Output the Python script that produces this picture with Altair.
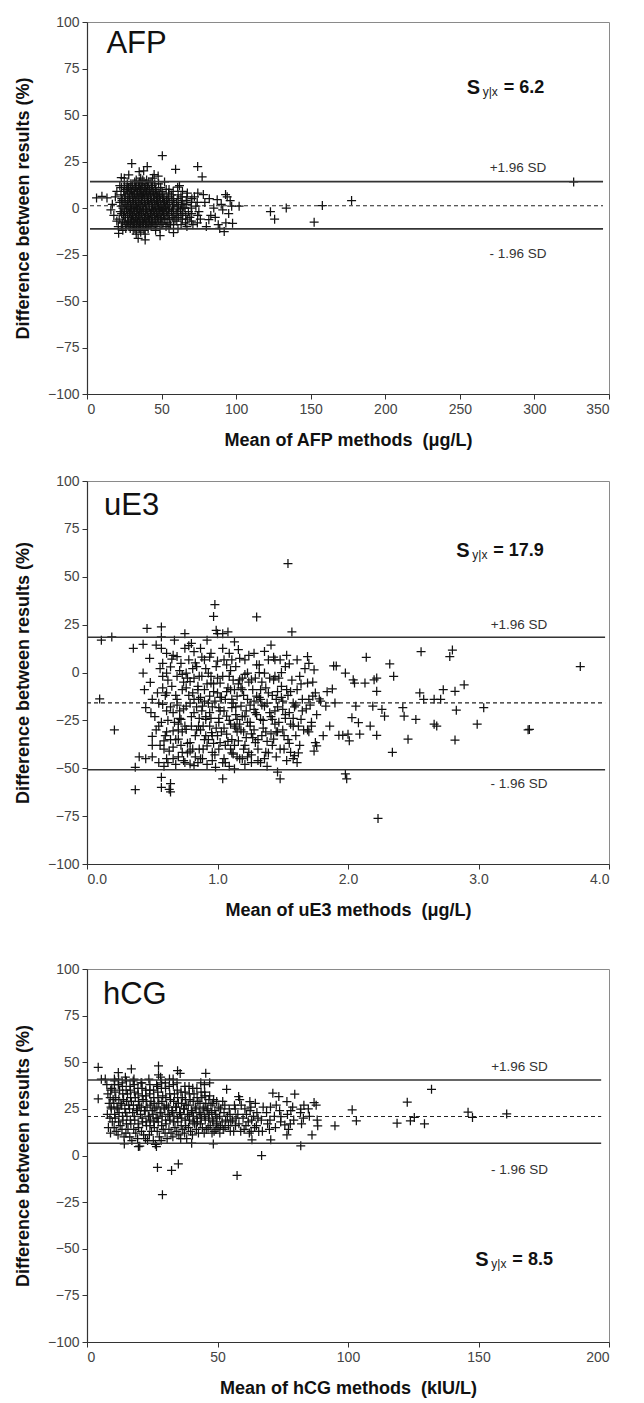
import altair as alt
import pandas as pd

FONT = "Liberation Sans"

# ---------------- AFP panel ----------------
AFP_PTS = [
    (50.5, 28.1), (30, 23.9), (40.4, 22.3), (74.2, 22.3), (59.4, 20.8), (77.2, 16.8), (326.3, 14),
    (177.4, 4), (157.8, 1.3), (133.6, 0), (123, -2), (125.8, -6), (152.3, -7.6), (102, 1), (97.6, -8.2),
    (92.9, 7.2), (92, -12.7), (93.1, -8), (87.3, 4.5), (81.7, -6.3), (78, 7.2), (6.4, 5.4), (10, 6.3),
    (13.4, 5.4), (39, -17.2), (49, -14.9), (58, -13.2), (21.2, -13.6), (34.3, -16.3), (23, 16.3),
    (25, 16), (47.7, 17.2), (60.8, 11.2), (35, 19.5), (38, 20), (44, 16), (28, 17.8), (33, 15), (45, 18),
    (62, 12), (70, 3), (72, 6), (75, -2), (80, -10), (85, 0), (90, 2), (95, -3), (96, 4), (83, -4),
    (88, -9), (91, -1), (66, -8), (68, -2), (64, 9), (55, 10), (52, 14), (48, 13),
    (17, 2), (18, -4), (19, 6), (16, -1), (20, -7), (21, -10), (20, 9), (22, 12), (24, -12), (26, -11),
    (27, 13), (29, 10), (31, -12), (33, -14), (36, -13), (37, 12), (41, -11), (43, 14), (46, -12),
    (53, -10), (56, -9), (59, -6), (61, 5), (63, -4), (65, 2), (67, 6), (69, -5), (71, -9), (73, 1),
    (76, -6), (79, 3), (82, 5), (86, -5), (89, -11), (94, 6), (97, 1),
    (21.6, -6), (22.3, -2), (22.0, 3), (22.8, 7),
    (23.7, -8), (24.4, -4), (24.1, 0), (23.5, 4), (24.6, 9),
    (26.2, -9), (25.8, -5), (26.5, -1), (26.0, 2), (25.6, 6), (26.3, 10),
    (28.1, -10), (27.7, -7), (28.4, -3), (28.0, 0), (27.5, 3), (28.6, 5), (28.2, 8), (27.9, 11),
    (30.2, -9), (29.8, -6), (30.5, -4), (30.0, -1), (29.6, 1), (30.7, 4), (30.3, 7), (29.9, 9), (30.4, 12),
    (32.1, -11), (31.7, -8), (32.4, -5), (32.0, -2), (31.6, 0), (32.6, 2), (32.2, 5), (31.8, 8), (32.5, 11), (32.0, 14),
    (34.3, -10), (33.8, -7), (34.5, -4), (34.0, -1), (33.6, 1), (34.7, 3), (34.2, 6), (33.9, 9), (34.4, 12),
    (36.0, -9), (35.6, -6), (36.4, -3), (36.1, -1), (35.7, 2), (36.6, 4), (36.2, 7), (35.9, 10), (36.3, 13), (36.0, 16),
    (38.2, -12), (37.8, -8), (38.5, -5), (38.0, -2), (37.6, 0), (38.7, 3), (38.3, 5), (37.9, 8), (38.4, 11),
    (40.1, -10), (39.7, -7), (40.4, -4), (40.0, -1), (39.6, 1), (40.6, 4), (40.2, 6), (39.8, 9), (40.5, 12), (40.0, 15),
    (42.2, -9), (41.8, -6), (42.5, -3), (42.0, 0), (41.6, 2), (42.7, 5), (42.3, 8), (41.9, 10),
    (44.1, -8), (43.7, -5), (44.4, -2), (44.0, 1), (43.6, 3), (44.6, 6), (44.2, 9), (43.8, 12),
    (46.2, -10), (45.8, -6), (46.5, -3), (46.0, 0), (45.6, 2), (46.7, 4), (46.3, 7), (45.9, 10),
    (48.1, -7), (47.7, -4), (48.4, -1), (48.0, 1), (47.6, 3), (48.6, 6), (48.2, 8),
    (50.2, -9), (49.8, -5), (50.5, -2), (50.0, 0), (49.6, 2), (50.7, 5), (50.3, 9),
    (52.1, -6), (51.7, -3), (52.4, 0), (52.0, 3), (51.6, 6),
    (54.2, -8), (53.8, -4), (54.5, -1), (54.0, 2), (53.6, 5), (54.7, 8),
    (57.1, -5), (56.7, -2), (57.4, 1), (57.0, 4), (56.6, 7),
    (60.2, -7), (59.8, -3), (60.5, 0), (60.0, 3),
    (63.1, -9), (62.7, -1), (63.4, 2), (63.0, 6),
    (66.2, -4), (65.8, 0), (66.5, 4),
    (23.0, -10), (23.2, -3), (22.9, 1), (23.3, 5), (23.1, 11),
    (25.0, -7), (25.2, -2), (24.9, 3), (25.3, 7), (25.1, 12),
    (27.0, -8), (27.2, -4), (26.9, 1), (27.3, 4), (27.1, 9),
    (29.0, -11), (29.2, -8), (28.9, -5), (29.3, -2), (29.1, 2), (28.8, 6), (29.4, 13),
    (31.0, -10), (31.2, -7), (30.9, -3), (31.3, 0), (31.1, 3), (30.8, 6), (31.4, 10),
    (33.0, -12), (33.2, -9), (32.9, -6), (33.3, -3), (33.1, 1), (32.8, 4), (33.4, 7), (33.0, 11),
    (35.0, -11), (35.2, -8), (34.9, -5), (35.3, -2), (35.1, 0), (34.8, 5), (35.4, 8), (35.0, 11), (35.2, 14),
    (37.0, -10), (37.2, -7), (36.9, -4), (37.3, 1), (37.1, 6), (36.8, 9), (37.4, 15),
    (39.0, -14), (39.2, -9), (38.9, -6), (39.3, -3), (39.1, 2), (38.8, 7), (39.4, 10), (39.0, 13),
    (41.0, -8), (41.2, -5), (40.9, -2), (41.3, 3), (41.1, 7), (40.8, 11), (41.4, 14),
    (43.0, -10), (43.2, -7), (42.9, -4), (43.3, -1), (43.1, 4), (42.8, 7), (43.4, 11),
    (45.0, -9), (45.2, -4), (44.9, -1), (45.3, 2), (45.1, 5), (44.8, 8), (45.4, 13),
    (47.0, -8), (47.2, -5), (46.9, -2), (47.3, 3), (47.1, 6), (46.8, 9),
    (49.0, -11), (49.2, -6), (48.9, -3), (49.3, 0), (49.1, 4), (48.8, 7), (49.4, 11),
    (51.0, -8), (51.2, -4), (50.9, -1), (51.3, 1), (51.1, 4), (50.8, 7),
    (53.0, -6), (53.2, -2), (52.9, 1), (53.3, 4), (53.1, 10),
    (55.0, -11), (55.2, -6), (54.9, -3), (55.3, 0), (55.1, 3), (54.8, 6),
    (58.0, -9), (58.2, -4), (57.9, -1), (58.3, 2), (58.1, 5), (57.8, 9),
    (61.0, -11), (61.2, -5), (60.9, -2), (61.3, 1), (61.1, 7),
    (64.0, -6), (64.2, -3), (63.9, 4), (64.3, 0),
    (67.0, -10), (67.2, -6), (66.9, 2), (67.3, 8),
    (70.0, -7), (70.2, -3), (69.9, 0), (70.3, 5),
    (74.0, -8), (74.2, -4), (73.9, 3), (74.3, 8),
]
AFP_LIMITS = [14.2, -11.2]
AFP_MEAN = [1.2]
AFP_LINE_X = [2, 346]
AFP_XTICKS = [0, 50, 100, 150, 200, 250, 300, 350]

# ---------------- uE3 panel ----------------
UE3_PTS = [
    (0.097, -13.8), (0.11, 16.9), (0.19, 18.6), (0.21, -30), (0.355, 12.6), (0.37, -49.5), (0.37, -61.2),
    (0.40, -44), (0.43, 14.7), (0.43, -0.3), (0.44, -9), (0.45, -18.4), (0.45, -45), (0.46, 23),
    (0.48, 7.4), (0.485, -5.2), (0.49, -21), (0.5, -14), (0.5, -33.4), (0.5, -38),
    (0.53, 14.3), (0.54, -10.7), (0.55, -28), (0.55, -47),
    (0.57, 23.8), (0.57, 18.6), (0.57, 12.6), (0.57, -26), (0.57, -54.7), (0.57, -60),
    (0.58, 4.8), (0.58, -2), (0.58, -16.7), (0.59, -35.7), (0.59, -40),
    (0.61, 10), (0.61, -0.3), (0.61, -10.7), (0.61, -31), (0.61, -45),
    (0.63, -61), (0.64, -58), (0.64, -62.4),
    (0.64, 3), (0.65, -7.2), (0.66, -21), (0.66, -30.5), (0.66, -39),
    (0.67, 16.9), (0.69, 8.3), (0.69, -2), (0.69, -14), (0.7, -27), (0.7, -34.8),
    (0.72, 4.8), (0.72, -24.5), (0.73, -9), (0.73, -41.7), (0.74, -46),
    (0.75, 20.3), (0.75, 12.6), (0.76, -0.3), (0.76, -17.6), (0.76, -29.7),
    (0.78, 6.6), (0.79, -4.7), (0.79, -36.6), (0.79, -47.8),
    (0.8, 15.2), (0.81, -10.7), (0.82, -21), (0.82, 10.9), (0.82, -48.6), (0.83, -33),
    (0.84, 3.1), (0.85, -7.2), (0.855, -14), (0.855, -28), (0.86, -40),
    (0.87, 12.6), (0.88, -2), (0.885, -17.6), (0.885, -45),
    (0.9, 6.6), (0.9, -9), (0.91, -24.5), (0.91, -33), (0.92, -38.3),
    (0.92, 16.9), (0.93, -0.3), (0.94, -12.4), (0.94, -21),
    (0.95, 10), (0.95, -5.5), (0.955, -31.4), (0.96, -41.7),
    (0.98, 35.5), (0.97, 29.3), (0.99, 22), (1.0, 20.3), (0.985, -49.5),
    (0.99, 3.1), (1.0, -10.7), (1.01, -18.4), (1.01, -26), (1.02, -36.6),
    (1.02, -5.5), (1.04, 12.6), (1.04, -55.5), (1.04, 20.3), (1.05, -45),
    (1.05, 6.6), (1.06, -14), (1.07, -22.8), (1.07, -32.2), (1.08, 21.2),
    (1.09, -2), (1.1, -9), (1.1, -40), (1.11, 6.6), (1.11, -18.4),
    (1.12, -42.6), (1.13, -50.3), (1.13, 16), (1.13, -28),
    (1.14, 3.1), (1.15, -12.4), (1.15, -24.5), (1.16, -35.7),
    (1.17, -3.8), (1.17, 7.4), (1.18, -17.6), (1.19, -45),
    (1.19, -9), (1.2, -31), (1.21, 6.6), (1.21, -22.8),
    (1.23, -0.3), (1.23, -14), (1.24, -41.7), (1.25, -28),
    (1.26, -3.8), (1.28, 10), (1.28, -19.3), (1.29, -36.6),
    (1.3, 29), (1.3, -12.4), (1.31, -46),
    (1.32, 4), (1.33, -24.5), (1.33, -9), (1.34, -33),
    (1.36, -0.3), (1.36, -17.6), (1.37, -41.7),
    (1.39, 6.6), (1.39, -10.7), (1.41, 14.3), (1.42, -24.5), (1.43, -34.8),
    (1.43, -3.8), (1.44, 6.6), (1.45, -14), (1.46, -52), (1.48, -55.5), (1.46, -31),
    (1.48, 6.6), (1.49, -7.2), (1.5, -19.3), (1.51, -40),
    (1.52, 3.1), (1.53, -9), (1.54, 56.9), (1.55, 4.5), (1.55, -21), (1.56, -41.7),
    (1.57, 21.2), (1.58, -15.9), (1.58, -28), (1.59, -43.4),
    (1.61, 6.6), (1.61, -47), (1.63, -2), (1.64, -24.5), (1.65, -14),
    (1.69, 8.3), (1.70, 4.8), (1.69, -5.5), (1.70, -31), (1.72, -28),
    (1.73, -12.4), (1.75, -10.7), (1.75, -36.6), (1.76, -38.3), (1.74, 1.4),
    (1.78, -13.8), (1.83, -17.6), (1.86, -28), (1.88, -8.6), (1.89, 3.4), (1.91, 3.4),
    (1.9, -15.9), (1.93, -32.8), (1.96, -32.8), (1.98, -0.3), (1.98, -53), (1.99, -55.5),
    (2.0, -32.2), (2.01, -35.7), (2.03, -23.6), (2.04, -3.8), (2.05, -5.5), (2.06, -17.6),
    (2.08, -26.2), (2.09, -32.2), (2.13, -5.5), (2.14, 7.9), (2.17, -28), (2.19, -17.6),
    (2.2, -3.8), (2.22, -9.8), (2.22, -2.9), (2.22, -32.8), (2.23, -76.2),
    (2.26, -19.3), (2.28, -22.8), (2.32, 4.5), (2.34, -41.7), (2.35, -2),
    (2.42, -18.4), (2.43, -22.8), (2.46, -34.8), (2.52, -24.5), (2.55, -10.7), (2.56, 10.9),
    (2.58, -14), (2.66, -14), (2.66, -27), (2.68, -28), (2.71, -14), (2.73, -9),
    (2.78, 8.3), (2.8, 11.7), (2.82, -9.8), (2.82, -35.3), (2.83, -19.7),
    (2.89, -6.4), (2.99, -27), (3.04, -18.4), (3.39, -29.7), (3.38, -29.9), (3.78, 3.1),
    (0.62, -25), (0.66, -45), (0.68, -35), (0.71, -20), (0.72, -38), (0.74, -5), (0.77, -42), (0.78, -12),
    (0.8, -28), (0.81, 2), (0.83, -44), (0.84, -18), (0.86, -24), (0.87, -30), (0.88, 8), (0.89, -40),
    (0.9, -15), (0.92, -6), (0.93, -35), (0.94, -28), (0.96, -18), (0.97, -10), (0.98, -43), (1.0, -3),
    (1.0, -33), (1.02, -20), (1.03, -13), (1.05, -29), (1.06, -38), (1.08, -8), (1.09, -25), (1.1, 1),
    (1.11, -35), (1.12, -16), (1.14, -22), (1.15, -44), (1.16, -6), (1.18, -30), (1.2, -12), (1.21, -38),
    (1.22, -20), (1.24, -5), (1.25, -26), (1.27, -34), (1.28, -15), (1.3, -22), (1.31, -40), (1.32, 0),
    (1.34, -17), (1.35, -29), (1.37, -8), (1.38, -36), (1.4, -21), (1.42, -12), (1.44, -27), (1.46, -18),
    (1.47, -3), (1.5, -30), (1.52, -22), (1.54, -35), (1.56, -10), (1.58, -24), (1.6, -17), (1.62, -42),
    (1.64, -6), (1.66, -30), (1.68, -19), (1.7, -14), (1.72, -26), (0.7, -30), (0.75, -28), (0.79, -16),
    (0.85, -47), (0.95, -2), (1.04, -47), (1.13, -9), (1.19, -3), (1.26, -47), (1.36, -45), (1.45, -44),
    (0.64, -18), (0.6, -12), (0.56, -38), (0.52, -23), (0.62, -47), (0.73, -1), (0.91, -23), (1.07, 4),
    (1.17, -27), (1.23, -44), (1.33, -14), (1.41, -32), (1.49, -13), (1.53, -46), (0.82, -3), (0.87, -13),
    (0.97, -37), (1.01, -24), (1.11, -42), (1.29, -3),
    (0.58, -8), (0.6, -33), (0.62, -4), (0.63, -41), (0.65, 7), (0.67, -26), (0.68, -12), (0.7, -44),
    (0.71, 1), (0.73, -31), (0.74, -19), (0.76, -8), (0.77, -37), (0.78, 14), (0.8, -23), (0.81, -40),
    (0.82, -14), (0.83, 5), (0.84, -30), (0.86, -2), (0.87, -45), (0.88, -20), (0.89, -28), (0.9, -35),
    (0.91, 2), (0.92, -48), (0.93, -16), (0.94, 8), (0.95, -24), (0.96, -33), (0.97, -6), (0.98, -15),
    (0.99, -29), (1.0, 6), (1.01, -40), (1.02, -13), (1.03, -31), (1.04, -2), (1.05, -20), (1.06, -47),
    (1.07, -10), (1.08, -36), (1.09, 10), (1.1, -27), (1.11, -14), (1.12, -4), (1.13, -38), (1.14, -18),
    (1.15, -31), (1.16, 12), (1.17, -45), (1.18, -8), (1.19, -23), (1.2, -40), (1.21, -1), (1.22, -34),
    (1.23, -26), (1.24, 9), (1.25, -17), (1.26, -43), (1.27, -9), (1.28, -30), (1.29, -21), (1.3, 4),
    (1.31, -35), (1.32, -13), (1.33, -47), (1.34, -5), (1.35, -25), (1.36, 11), (1.37, -31), (1.38, -16),
    (1.39, -42), (1.4, -3), (1.41, -23), (1.42, -38), (1.43, 8), (1.44, -20), (1.45, -31), (1.46, -10),
    (1.47, -26), (1.48, -40), (1.49, 0), (1.5, -15), (1.51, -33), (1.52, -24), (1.53, 9), (1.54, -12),
    (1.55, -37), (1.56, -27), (1.57, -4), (1.59, -18), (1.6, -33), (1.61, -9), (1.63, -38), (1.65, -20),
    (1.67, 2), (1.69, -30), (1.71, -17), (1.73, -5), (1.76, -22), (1.79, -15), (1.81, -33), (1.84, -10),
    (0.5, -44), (0.53, -30), (0.55, -16), (0.56, 2), (0.59, -49), (0.61, -20), (0.64, -35), (0.66, 9),
    (0.68, -48), (0.71, -24), (0.75, -47), (0.79, -41), (0.96, -46), (1.09, -49), (1.21, -48), (1.38, -49),
    (0.85, -9), (0.77, -3), (0.69, -17), (1.14, -29), (1.26, -32), (1.44, -2), (1.58, -45), (1.62, -28),
    (1.74, -41),
]
UE3_LIMITS = [18.4, -50.8]
UE3_MEAN = [-15.9]
UE3_LINE_X = [0, 3.97]
UE3_XTICKS = [0, 1, 2, 3, 4]

# ---------------- hCG panel ----------------
HCG_PTS = [
    (4.3, 47.3), (4.3, 30.4), (5.5, 40.9), (7, 41), (10.5, 41), (12, 44.5), (17, 46.4), (27.4, 48),
    (27.4, 43.2), (34.7, 45.5), (45.5, 44.1), (47, 39), (27, -6.4), (32.4, -8), (35, -4.5), (28.9, -21),
    (57.5, -10.7), (66.9, 0), (48.4, 6.2), (40.1, 6.6), (14.3, 6.2), (19.7, 4.8), (26.6, 4.8),
    (53.5, 35.5), (58.1, 31.6), (62.4, 28.9), (63.2, 8.4), (70.4, 8.4), (71.2, 33.4), (73.5, 31.6),
    (76.6, 28.9), (79.6, 32.9), (81.9, 24.8), (81.9, 5.2), (86.2, 11), (87, 28.4), (88.4, 15.9),
    (95, 15.9), (101.6, 24.5), (103.2, 18.6), (118.8, 17.3), (122.7, 28.6), (123.9, 18.6), (125.4, 20.4),
    (129.3, 17), (132, 35.5), (146, 23.2), (147.7, 20.4), (160.8, 22.3), (76.6, 11), (65.8, 12.9),
    (65.5, 20), (74.3, 20.9), (75.8, 16.4),
    (8.2, 15), (7.8, 22), (8.5, 28), (8.0, 33), (7.6, 38),
    (9.7, 18), (9.3, 25), (10.0, 30), (9.5, 36),
    (11.2, 13), (10.8, 20), (11.5, 26), (11.0, 31), (10.6, 40),
    (12.7, 16), (12.3, 23), (13.0, 28), (12.5, 35),
    (14.2, 10), (13.8, 19), (14.5, 25), (14.0, 30), (13.6, 37), (14.7, 42),
    (15.7, 14), (15.3, 21), (16.0, 27), (15.5, 33),
    (17.2, 8), (16.8, 17), (17.5, 23), (17.0, 29), (16.6, 35), (17.7, 40),
    (18.7, 12), (18.3, 19), (19.0, 25), (18.5, 31), (18.1, 38),
    (20.2, 5), (19.8, 15), (20.5, 22), (20.0, 27), (19.6, 33), (20.7, 39),
    (21.7, 11), (21.3, 18), (22.0, 24), (21.5, 30), (21.1, 36),
    (23.2, 8), (22.8, 16), (23.5, 21), (23.0, 26), (22.6, 32), (23.7, 41),
    (24.7, 13), (24.3, 19), (25.0, 24), (24.5, 29), (24.1, 35),
    (26.2, 6), (25.8, 15), (26.5, 20), (26.0, 25), (25.6, 31), (26.7, 38),
    (27.7, 10), (27.3, 18), (28.0, 23), (27.5, 28), (27.1, 34), (28.2, 42),
    (29.2, 14), (28.8, 21), (29.5, 26), (29.0, 32), (28.6, 39),
    (30.7, 9), (30.3, 17), (31.0, 22), (30.5, 27), (30.1, 36),
    (32.2, 12), (31.8, 19), (32.5, 24), (32.0, 30), (31.6, 41),
    (33.7, 15), (33.3, 21), (34.0, 26), (33.5, 33), (33.1, 38),
    (35.2, 11), (34.8, 18), (35.5, 23), (35.0, 28), (34.6, 35), (35.7, 44),
    (36.7, 14), (36.3, 20), (37.0, 25), (36.5, 31),
    (38.2, 9), (37.8, 16), (38.5, 22), (38.0, 27), (37.6, 34),
    (39.7, 13), (39.3, 19), (40.0, 24), (39.5, 30), (39.1, 37),
    (41.2, 17), (40.8, 21), (41.5, 26), (41.0, 33),
    (42.7, 12), (42.3, 18), (43.0, 23), (42.5, 29), (42.1, 36),
    (44.2, 15), (43.8, 20), (44.5, 25), (44.0, 31), (43.6, 39),
    (45.7, 14), (45.3, 19), (46.0, 24), (45.5, 28), (45.1, 34),
    (47.2, 16), (46.8, 22), (47.5, 27), (47.0, 32),
    (48.7, 13), (48.3, 18), (49.0, 24), (48.5, 30),
    (50.2, 15), (49.8, 20), (50.5, 26),
    (52.2, 14), (51.8, 18), (52.5, 23), (52.0, 29),
    (54.2, 16), (53.8, 21), (54.5, 25),
    (56.2, 13), (55.8, 19), (56.5, 27),
    (58.2, 17), (57.8, 22), (58.5, 30),
    (60.2, 14), (59.8, 20), (60.5, 25),
    (62.2, 12), (61.8, 18), (62.5, 24),
    (64.2, 15), (63.8, 21), (64.5, 28),
    (67.2, 13), (66.8, 19), (67.5, 26),
    (69.2, 17), (68.8, 23),
    (72.2, 15), (71.8, 21), (72.5, 27),
    (74.2, 18), (73.8, 24),
    (77.2, 14), (76.8, 22),
    (79.2, 19), (78.8, 26),
    (82.2, 17), (81.8, 23),
    (85.2, 21), (84.8, 25),
    (88.2, 19), (87.8, 27),
    (9.0, 12), (8.8, 20), (9.2, 26), (8.9, 31), (9.1, 35),
    (10.4, 15), (10.6, 22), (10.3, 28), (10.7, 34), (10.5, 38),
    (11.9, 11), (12.1, 18), (11.8, 25), (12.2, 30), (12.0, 38), (12.1, 41),
    (13.4, 14), (13.6, 21), (13.3, 27), (13.7, 33), (13.5, 39),
    (14.9, 12), (15.1, 17), (14.8, 23), (15.2, 29), (15.0, 35), (15.1, 40),
    (16.4, 10), (16.6, 19), (16.3, 25), (16.7, 31), (16.5, 37),
    (17.9, 14), (18.1, 21), (17.8, 27), (18.2, 34), (18.0, 41),
    (19.4, 9), (19.6, 17), (19.3, 24), (19.7, 29), (19.5, 36),
    (20.9, 13), (21.1, 20), (20.8, 26), (21.2, 32), (21.0, 39),
    (22.4, 9), (22.6, 18), (22.3, 24), (22.7, 29), (22.5, 35),
    (23.9, 11), (24.1, 16), (23.8, 21), (24.2, 27), (24.0, 33), (24.1, 38),
    (25.4, 8), (25.6, 18), (25.3, 22), (25.7, 28), (25.5, 35),
    (26.9, 13), (27.1, 20), (26.8, 26), (27.2, 31), (27.0, 37),
    (28.4, 8), (28.6, 16), (28.3, 23), (28.7, 29), (28.5, 36),
    (29.9, 12), (30.1, 19), (29.8, 25), (30.2, 31), (30.0, 39),
    (31.4, 14), (31.6, 21), (31.3, 26), (31.7, 33), (31.5, 37),
    (32.9, 10), (33.1, 18), (32.8, 23), (33.2, 29), (33.0, 41),
    (34.4, 13), (34.6, 20), (34.3, 26), (34.7, 31), (34.5, 39),
    (35.9, 9), (36.1, 16), (35.8, 22), (36.2, 28), (36.0, 34),
    (37.4, 12), (37.6, 19), (37.3, 25), (37.7, 30), (37.5, 37),
    (38.9, 15), (39.1, 21), (38.8, 27), (39.2, 33),
    (40.4, 11), (40.6, 18), (40.3, 23), (40.7, 29), (40.5, 36),
    (41.9, 14), (42.1, 20), (41.8, 25), (42.2, 31),
    (43.4, 17), (43.6, 22), (43.3, 28), (43.7, 34),
    (44.9, 12), (45.1, 21), (44.8, 26), (45.2, 32), (45.0, 38),
    (46.4, 15), (46.6, 20), (46.3, 25), (46.7, 30),
    (47.9, 12), (48.1, 19), (47.8, 23), (48.2, 28),
    (49.4, 14), (49.6, 17), (49.3, 22), (49.7, 29),
    (50.9, 12), (51.1, 16), (50.8, 21), (51.2, 25),
    (52.9, 15), (53.1, 19), (52.8, 27),
    (54.9, 13), (55.1, 18), (54.8, 22),
    (56.9, 16), (57.1, 20), (56.8, 25),
    (58.9, 13), (59.1, 27),
    (60.9, 16), (61.1, 22),
    (62.9, 13), (63.1, 19), (62.8, 26),
    (64.9, 16), (65.1, 23),
    (69.9, 14), (70.1, 19), (70.3, 26),
    (77.9, 17), (78.1, 24),
    (82.9, 20), (83.1, 27),
]
HCG_LIMITS = [40.5, 6.6]
HCG_MEAN = [20.9]
HCG_LINE_X = [0, 197]
HCG_XTICKS = [0, 50, 100, 150, 200]

CROSS = "M-1,0L1,0M0,-1L0,1"


def panel(pts, limits, mean, line_x, xticks, xmax, xfmt, xtitle, name, name_xy,
          sd_x, sd_up_y, sd_lo_y, s_xy, s_val, height):
    pdf = pd.DataFrame(pts, columns=["x", "y"])
    xs = alt.Scale(domain=[0, xmax], nice=False, zero=False)
    ys = alt.Scale(domain=[-100, 100], nice=False)
    xax = alt.Axis(values=xticks, format=xfmt, title=xtitle, grid=False)
    yax = alt.Axis(values=[-100, -75, -50, -25, 0, 25, 50, 75, 100],
                   title="Difference between results (%)", grid=False)
    X = alt.X("x:Q", scale=xs, axis=xax)
    Y = alt.Y("y:Q", scale=ys, axis=yax)

    pts_layer = alt.Chart(pdf).mark_point(
        shape=CROSS, filled=False, stroke="#111", strokeWidth=1.25, size=81, opacity=1
    ).encode(x=X, y=Y)

    lim_df = pd.DataFrame({"y": limits, "x": [line_x[0]] * len(limits), "x2": [line_x[1]] * len(limits)})
    mean_df = pd.DataFrame({"y": mean, "x": [line_x[0]], "x2": [line_x[1]]})
    lim_layer = alt.Chart(lim_df).mark_rule(color="#333", strokeWidth=1.6).encode(
        x=alt.X("x:Q", scale=xs), x2="x2:Q", y=alt.Y("y:Q", scale=ys))
    mean_layer = alt.Chart(mean_df).mark_rule(color="#222", strokeWidth=1.2, strokeDash=[4, 3]).encode(
        x=alt.X("x:Q", scale=xs), x2="x2:Q", y=alt.Y("y:Q", scale=ys))

    name_df = pd.DataFrame({"x": [name_xy[0]], "y": [name_xy[1]], "t": [name]})
    name_layer = alt.Chart(name_df).mark_text(
        align="left", baseline="middle", fontSize=31, font=FONT, color="#111"
    ).encode(x=alt.X("x:Q", scale=xs), y=alt.Y("y:Q", scale=ys), text="t:N")

    sd_df = pd.DataFrame({"x": [sd_x, sd_x], "y": [sd_up_y, sd_lo_y], "t": ["+1.96 SD", "- 1.96 SD"]})
    sd_layer = alt.Chart(sd_df).mark_text(
        align="center", baseline="middle", fontSize=13.5, font=FONT, color="#333"
    ).encode(x=alt.X("x:Q", scale=xs), y=alt.Y("y:Q", scale=ys), text="t:N")

    s_df = pd.DataFrame({"x": [s_xy[0]], "y": [s_xy[1]], "s": ["S"], "sub": ["y|x"], "v": ["= " + s_val]})
    enc = dict(x=alt.X("x:Q", scale=xs), y=alt.Y("y:Q", scale=ys))
    s1 = alt.Chart(s_df).mark_text(align="left", baseline="middle", fontSize=20, fontWeight="bold",
                                   font=FONT, color="#111").encode(text="s:N", **enc)
    s2 = alt.Chart(s_df).mark_text(align="left", baseline="middle", fontSize=12, dx=16, dy=4,
                                   font=FONT, color="#222").encode(text="sub:N", **enc)
    s3 = alt.Chart(s_df).mark_text(align="left", baseline="middle", fontSize=18, fontWeight="bold", dx=37,
                                   font=FONT, color="#111").encode(text="v:N", **enc)

    return alt.layer(pts_layer, lim_layer, mean_layer, name_layer, sd_layer, s1, s2, s3).properties(
        width=522, height=height)


NB = "\u00a0"
p1 = panel(AFP_PTS, AFP_LIMITS, AFP_MEAN, AFP_LINE_X, AFP_XTICKS, 350, "d",
           "Mean of AFP methods " + NB + "(μg/L)", "AFP", (13, 88), 289, 21.7, -24.5,
           (254.6, 64.7), "6.2", 372)
p2 = panel(UE3_PTS, UE3_LIMITS, UE3_MEAN, UE3_LINE_X, UE3_XTICKS, 4, ".1f",
           "Mean of uE3 methods " + NB + "(μg/L)", "uE3", (0.13, 86.7), 3.31, 25, -58,
           (2.83, 63.4), "17.9", 383)
p3 = panel(HCG_PTS, HCG_LIMITS, HCG_MEAN, HCG_LINE_X, HCG_XTICKS, 200, "d",
           "Mean of hCG methods " + NB + "(kIU/L)", "hCG", (6.1, 86), 165.7, 47.3, -8,
           (148.8, -56.2), "8.5", 373)

chart = alt.vconcat(p1, alt.vconcat(p2, p3, spacing=41), spacing=23).configure_view(
    stroke="#8a8a8a", strokeWidth=1
).configure_axis(
    domainColor="#333", domainWidth=1.2, tickColor="#333", tickSize=5,
    labelFont=FONT, labelFontSize=14, labelColor="#444", labelPadding=3,
    titleFont=FONT, titleFontSize=18, titleFontWeight="bold", titleColor="#111",
).configure_axisY(titlePadding=15).configure_axisX(titlePadding=15).properties(
    padding={"left": 5, "top": 6, "right": 6, "bottom": 4}
)

chart.save("out.html", embed_options={"renderer": "svg", "actions": False})
